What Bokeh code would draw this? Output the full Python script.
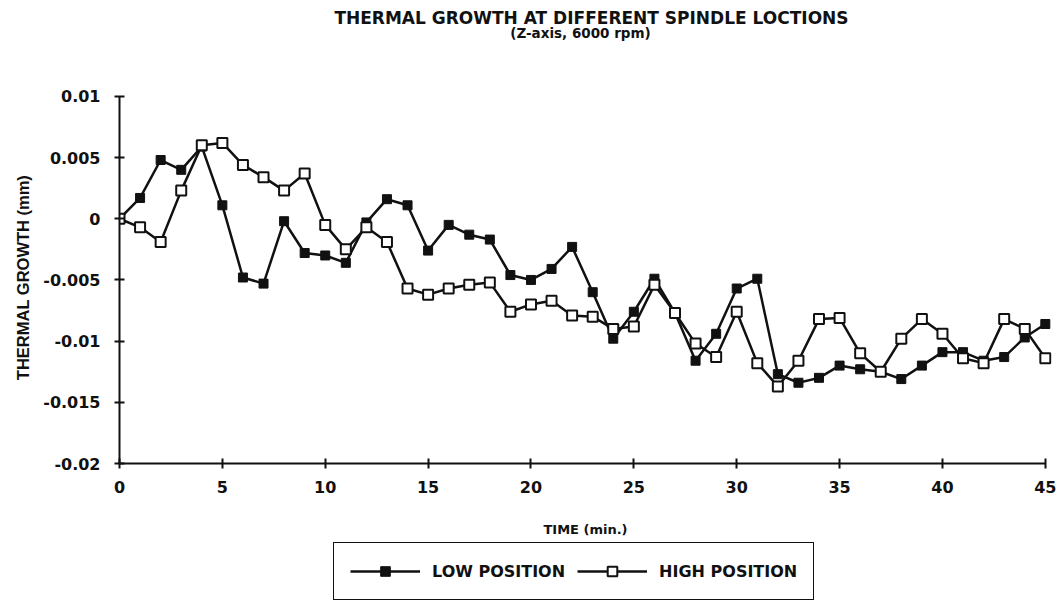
from bokeh.plotting import figure
from bokeh.layouts import column
from bokeh.models import Range1d, FixedTicker, Legend, LegendItem, Label
from bokeh.embed import file_html
from bokeh.resources import INLINE

# ---- data ----
time_min = list(range(46))
low_position = [0.0, 0.0017, 0.0048, 0.0040, 0.0059, 0.0011, -0.0048, -0.0053, -0.0002, -0.0028,
                -0.0030, -0.0036, -0.0003, 0.0016, 0.0011, -0.0026, -0.0005, -0.0013, -0.0017, -0.0046,
                -0.0050, -0.0041, -0.0023, -0.0060, -0.0098, -0.0076, -0.0049, -0.0077, -0.0116, -0.0094,
                -0.0057, -0.0049, -0.0127, -0.0134, -0.0130, -0.0120, -0.0123, -0.0125, -0.0131, -0.0120,
                -0.0109, -0.0109, -0.0116, -0.0113, -0.0097, -0.0086]
high_position = [0.0, -0.0007, -0.0019, 0.0023, 0.0060, 0.0062, 0.0044, 0.0034, 0.0023, 0.0037,
                 -0.0005, -0.0025, -0.0007, -0.0019, -0.0057, -0.0062, -0.0057, -0.0054, -0.0052, -0.0076,
                 -0.0070, -0.0067, -0.0079, -0.0080, -0.0090, -0.0088, -0.0054, -0.0077, -0.0102, -0.0113,
                 -0.0076, -0.0118, -0.0137, -0.0116, -0.0082, -0.0081, -0.0110, -0.0125, -0.0098, -0.0082,
                 -0.0094, -0.0114, -0.0118, -0.0082, -0.0090, -0.0114]
x_ticks = [0, 5, 10, 15, 20, 25, 30, 35, 40, 45]
y_ticks = [-0.02, -0.015, -0.01, -0.005, 0.0, 0.005, 0.01]
y_tick_labels = ["-0.02", "-0.015", "-0.01", "-0.005", "0", "0.005", "0.01"]
title_text = "THERMAL GROWTH AT DIFFERENT SPINDLE LOCTIONS"
subtitle_text = "(Z-axis, 6000 rpm)"
x_label = "TIME (min.)"
y_label = "THERMAL GROWTH (mm)"
series_names = ["LOW POSITION", "HIGH POSITION"]

FONT = "DejaVu Sans"
INK = "#111111"
W = 1058
LEFT, RIGHT = 119, 7
H_TITLE, H_MAIN, H_LEG = 45, 496, 61


def bare(height):
    f = figure(width=W, height=height, output_backend="svg", toolbar_location=None,
               x_range=Range1d(100, 200), y_range=Range1d(100, 200), title=None,
               x_axis_type=None, y_axis_type=None,
               min_border_left=LEFT, min_border_right=RIGHT, min_border_top=0, min_border_bottom=0)
    f.grid.visible = False
    f.outline_line_color = None
    f.background_fill_color = "white"
    f.border_fill_color = "white"
    return f


# ---- title strip ----
pt = bare(H_TITLE)
pt.add_layout(Label(x=591 - LEFT, y=H_TITLE - 17, x_units="screen", y_units="screen",
                    text=title_text, text_align="center",
                    text_baseline="middle", text_font=FONT, text_font_style="bold",
                    text_font_size="17px", text_color=INK))
pt.add_layout(Label(x=580 - LEFT, y=H_TITLE - 32, x_units="screen", y_units="screen",
                    text=subtitle_text, text_align="center",
                    text_baseline="middle", text_font=FONT, text_font_style="bold",
                    text_font_size="13.5px", text_color=INK))

# ---- main plot ----
p = figure(width=W, height=H_MAIN, output_backend="svg", toolbar_location=None,
           x_range=Range1d(0, 45.3), y_range=Range1d(-0.02, 0.0104), title=None,
           min_border_left=LEFT, min_border_right=RIGHT,
           min_border_bottom=H_MAIN + H_TITLE - 463, min_border_top=91 - H_TITLE)

p.grid.visible = False
p.outline_line_color = None
p.background_fill_color = "white"
p.border_fill_color = "white"

for ax in (p.xaxis[0], p.yaxis[0]):
    ax.axis_line_width = 2
    ax.axis_line_color = INK
    ax.major_tick_line_width = 2
    ax.major_tick_line_color = INK
    ax.major_tick_in = 5
    ax.major_tick_out = 5
    ax.minor_tick_line_color = None
    ax.major_label_text_font = FONT
    ax.major_label_text_font_style = "bold"
    ax.major_label_text_font_size = "16px"
    ax.major_label_text_color = INK
    ax.axis_label_text_font_style = "bold"
    ax.axis_label_text_color = INK

xa = p.xaxis[0]
xa.ticker = FixedTicker(ticks=x_ticks)
xa.bounds = (0, 45)
xa.major_label_standoff = 12
xa.axis_label = x_label
xa.axis_label_text_font = FONT
xa.axis_label_text_font_size = "13px"
xa.axis_label_standoff = 26

ya = p.yaxis[0]
ya.ticker = FixedTicker(ticks=y_ticks)
ya.major_label_overrides = {t: l for t, l in zip(y_ticks, y_tick_labels)}
ya.bounds = (-0.02, 0.01)
ya.major_label_standoff = 14
ya.axis_label = y_label
ya.axis_label_text_font = "Liberation Sans"
ya.axis_label_text_font_size = "16.5px"
ya.axis_label_standoff = 8

p.line(time_min, low_position, line_color=INK, line_width=2.5)
p.line(time_min, high_position, line_color=INK, line_width=2.5)
p.scatter(time_min, low_position, marker="square", size=9, fill_color=INK, line_color=INK)
p.scatter(time_min, high_position, marker="square", size=10, fill_color="white",
          line_color=INK, line_width=2)

# ---- legend strip (its renderers lie outside the strip's ranges; only the legend shows) ----
pl = bare(H_LEG)
lg_l = pl.line(time_min[:1], low_position[:1], line_color=INK, line_width=2.5)
lg_lm = pl.scatter(time_min[:1], low_position[:1], marker="square", size=9, fill_color=INK, line_color=INK)
lg_h = pl.line(time_min[:1], high_position[:1], line_color=INK, line_width=2.5)
lg_hm = pl.scatter(time_min[:1], high_position[:1], marker="square", size=10, fill_color="white",
                   line_color=INK, line_width=2)
legend = Legend(items=[LegendItem(label=series_names[0], renderers=[lg_l, lg_lm]),
                       LegendItem(label=series_names[1], renderers=[lg_h, lg_hm])],
                orientation="horizontal", location=(333 - LEFT, 2), margin=0,
                border_line_color=INK, border_line_width=1.5, border_line_alpha=1.0,
                glyph_width=70, glyph_height=24, padding=16, spacing=12, label_standoff=12,
                label_text_font=FONT, label_text_font_style="bold", label_text_font_size="16px",
                label_text_color=INK, background_fill_color="white", background_fill_alpha=1)
pl.add_layout(legend)

layout = column(pt, p, pl, spacing=0)
open("out.html", "w").write(file_html(layout, INLINE))
